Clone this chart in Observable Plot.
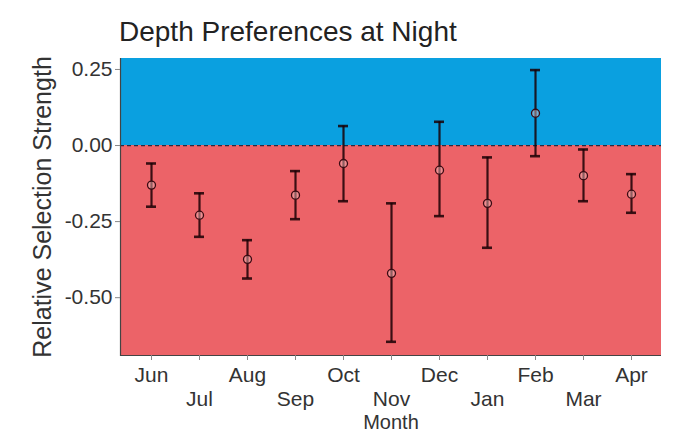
<!DOCTYPE html>
<html>
<head>
<meta charset="utf-8">
<script src="https://cdn.jsdelivr.net/npm/d3@7"></script>
<script src="https://cdn.jsdelivr.net/npm/@observablehq/plot@0.6"></script>
<style>
  body { margin: 0; background: #fff; }
  #wrap { position: relative; width: 675px; height: 433px; font-family: "Liberation Sans", Arial, sans-serif; }
  #title { position: absolute; left: 119px; top: 18px; font-size: 28px; color: #222; white-space: nowrap; line-height: 1; }
</style>
</head>
<body>
<div id="wrap"><div id="title">Depth Preferences at Night</div></div>
<script>
const months = ["Jun","Jul","Aug","Sep","Oct","Nov","Dec","Jan","Feb","Mar","Apr"];
const means  = [-0.130, -0.229, -0.374, -0.163, -0.059, -0.420, -0.081, -0.190, 0.106, -0.099, -0.160];
const lowers = [-0.201, -0.300, -0.437, -0.242, -0.183, -0.645, -0.232, -0.336, -0.035, -0.183, -0.221];
const uppers = [-0.059, -0.157, -0.311, -0.084, 0.064, -0.190, 0.078, -0.039, 0.248, -0.013, -0.094];
const yTicks = [0.25, 0, -0.25, -0.5];
const yMin = -0.69, yMax = 0.286;
const regions = [
  {y1: 0, y2: yMax, fill: "#0aa0e0"},
  {y1: yMin, y2: 0, fill: "#ec6368"}
];

const data = months.map((m, i) => ({month: m, mean: means[i], lo: lowers[i], hi: uppers[i]}));
const evenMonths = months.filter((m, i) => i % 2 === 0);
const oddMonths = months.filter((m, i) => i % 2 === 1);

const chart = Plot.plot({
  width: 675,
  height: 433,
  marginLeft: 120,
  marginRight: 14,
  marginTop: 58,
  marginBottom: 78,
  style: {fontFamily: "Liberation Sans, Arial, sans-serif", background: "transparent"},
  x: {type: "band", domain: months, paddingInner: 0.793, paddingOuter: 0.4965, axis: null},
  y: {domain: [yMin, yMax], axis: null},
  marks: [
    Plot.rect(regions, {y1: "y1", y2: "y2", fill: "fill"}),
    Plot.ruleY([0], {stroke: "#2a2a40", strokeWidth: 1.2, strokeDasharray: "4,3"}),
    Plot.ruleX(data, {x: "month", y1: "lo", y2: "hi", stroke: "#1a0005", strokeOpacity: 0.85, strokeWidth: 2.2}),
    Plot.tickY(data, {x: "month", y: "hi", stroke: "#1a0005", strokeOpacity: 0.85, strokeWidth: 2.6}),
    Plot.tickY(data, {x: "month", y: "lo", stroke: "#1a0005", strokeOpacity: 0.85, strokeWidth: 2.6}),
    Plot.dot(data, {x: "month", y: "mean", r: 4, stroke: "#3a0a12", strokeWidth: 1.3, fill: "#f4c0c0", fillOpacity: 0.45}),
    Plot.ruleY([yMin], {stroke: "#444", strokeWidth: 1.2}),
    Plot.frame({anchor: "left", stroke: "#444", strokeWidth: 1.2}),
    Plot.axisY(yTicks, {tickSize: 5, tickPadding: 3, stroke: "#888", fontSize: 21, fill: "#333",
      tickFormat: d => d.toFixed(2), label: null}),
    Plot.axisX({tickSize: 5, stroke: "#888", tickFormat: () => "", label: null}),
    Plot.axisX(evenMonths, {tickSize: 0, tickPadding: 12, fontSize: 21, fill: "#333", label: null}),
    Plot.axisX(oddMonths, {tickSize: 0, tickPadding: 36, fontSize: 21, fill: "#333", label: null}),
    Plot.text(["Month"], {frameAnchor: "bottom", lineAnchor: "middle", dy: 67, fontSize: 20, fill: "#333"}),
    Plot.text(["Relative Selection Strength"], {frameAnchor: "left", textAnchor: "middle", lineAnchor: "middle", dx: -78, rotate: -90, fontSize: 25, fill: "#333"})
  ]
});
document.getElementById("wrap").appendChild(chart);
</script>
</body>
</html>
